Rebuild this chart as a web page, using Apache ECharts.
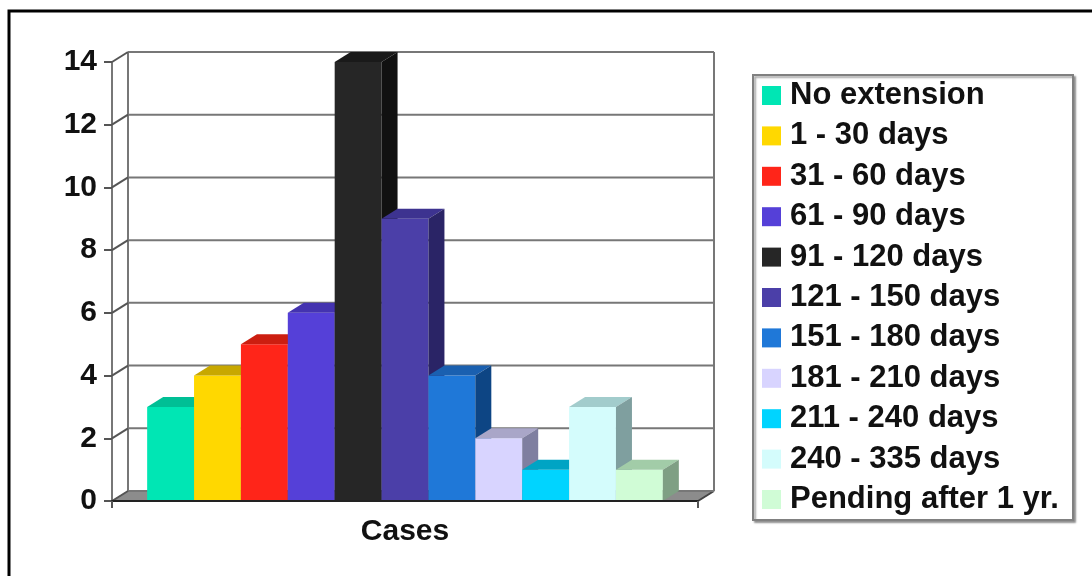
<!DOCTYPE html>
<html>
<head>
<meta charset="utf-8">
<style>
  html, body { margin: 0; padding: 0; background: #ffffff; }
  #chart { width: 1092px; height: 576px; }
</style>
<script src="https://cdn.jsdelivr.net/npm/echarts@6/dist/echarts.min.js"></script>
</head>
<body>
<div id="chart"></div>
<script>
// Case counts by length of extension
const categories = ['Cases'];
const seriesNames = [
  'No extension', '1 - 30 days', '31 - 60 days', '61 - 90 days',
  '91 - 120 days', '121 - 150 days', '151 - 180 days', '181 - 210 days',
  '211 - 240 days', '240 - 335 days', 'Pending after 1 yr.'
];
const seriesValues = [3, 4, 5, 6, 14, 9, 4, 2, 1, 3, 1];
const yTicks = [0, 2, 4, 6, 8, 10, 12, 14];

// Face colours of each 3D bar: front, top, right side
const frontColors = ['#00e6b4', '#ffd800', '#ff2519', '#5540d8', '#262626', '#4b3fa8',
                     '#1f78d8', '#d8d4ff', '#00d4ff', '#d4fcfc', '#d0fcd6'];
const topColors   = ['#00bf95', '#c8a800', '#cc1e10', '#4433b0', '#1a1a1a', '#3d3390',
                     '#1a60b0', '#a9a6c8', '#00a4c4', '#a2cccc', '#a2cca8'];
const sideColors  = ['#009a78', '#a08800', '#a01810', '#2e2480', '#111111', '#2a2466',
                     '#0d4584', '#7f7fa0', '#0080a0', '#7f9f9f', '#7f9f84'];

// Depth of the pseudo-3D box (screen offset of the back plane)
const DX = 16, DY = -10;
const GROUP_RATIO = 0.88;
const FONT = '"Liberation Sans", Arial, sans-serif';
const GRID_COLOR = '#777777';

const chart = echarts.init(document.getElementById('chart'), null, { renderer: 'canvas' });

// Back wall, side wall and floor of the 3D box
const wallSeries = {
  type: 'custom',
  name: 'wall',
  silent: true,
  z: 1,
  data: yTicks.map(v => [0, v]),
  renderItem(params, api) {
    const cs = params.coordSys;
    const x0 = cs.x, x1 = cs.x + cs.width;
    const y = api.coord([0, api.value(1)])[1];
    const children = [];
    const lineStyle = { stroke: GRID_COLOR, lineWidth: 2 };
    if (params.dataIndex === 0) {
      const yTop = api.coord([0, yTicks[yTicks.length - 1]])[1];
      children.push({
        type: 'polygon',
        shape: { points: [[x0, y], [x1, y], [x1 + DX, y + DY], [x0 + DX, y + DY]] },
        style: { fill: '#8c8c8c', stroke: '#6a6a6a', lineWidth: 1 }
      });
      children.push({ type: 'line', shape: { x1: x0 + DX, y1: y + DY, x2: x0 + DX, y2: yTop + DY }, style: lineStyle });
      children.push({ type: 'line', shape: { x1: x1 + DX, y1: y + DY, x2: x1 + DX, y2: yTop + DY }, style: lineStyle });
      children.push({ type: 'line', shape: { x1: x1, y1: y, x2: x1 + DX, y2: y + DY }, style: { stroke: '#444', lineWidth: 2 } });
    }
    children.push({ type: 'line', shape: { x1: x0 + DX, y1: y + DY, x2: x1 + DX, y2: y + DY }, style: lineStyle });
    children.push({ type: 'line', shape: { x1: x0, y1: y, x2: x0 + DX, y2: y + DY }, style: { stroke: '#555', lineWidth: 2 } });
    return { type: 'group', children };
  }
};

// One 3D bar per extension range, side by side inside the single category
const barSeries = seriesNames.map((name, i) => ({
  type: 'custom',
  name,
  z: 2,
  itemStyle: { color: frontColors[i] },
  data: [[0, seriesValues[i]]],
  renderItem(params, api) {
    const base = api.coord([api.value(0), 0]);
    const top = api.coord([api.value(0), api.value(1)]);
    const band = api.size([1, 0])[0];
    const group = band * GROUP_RATIO;
    const bw = group / seriesNames.length;
    const xl = base[0] - group / 2 + i * bw;
    const xr = xl + bw;
    const yb = base[1], yt = top[1];
    return {
      type: 'group',
      children: [
        { type: 'rect', shape: { x: xl, y: yt, width: bw, height: yb - yt }, style: { fill: frontColors[i] } },
        { type: 'polygon', shape: { points: [[xl, yt], [xr, yt], [xr + DX, yt + DY], [xl + DX, yt + DY]] }, style: { fill: topColors[i] } },
        { type: 'polygon', shape: { points: [[xr, yt], [xr + DX, yt + DY], [xr + DX, yb + DY], [xr, yb]] }, style: { fill: sideColors[i] } }
      ]
    };
  }
}));

chart.setOption({
  animation: false,
  backgroundColor: '#ffffff',
  textStyle: { fontFamily: FONT },
  graphic: [
    { type: 'rect', z: 0, silent: true,
      shape: { x: 9, y: 11, width: 1110, height: 620 },
      style: { fill: null, stroke: '#000000', lineWidth: 3 } },
    { type: 'rect', z: 0, silent: true,
      shape: { x: 753, y: 75, width: 320, height: 445 },
      style: { fill: '#ffffff', stroke: '#808080', lineWidth: 2,
               shadowColor: 'rgba(0,0,0,0.35)', shadowBlur: 2, shadowOffsetX: 2, shadowOffsetY: 2 } }
  ],
  grid: { left: 112, top: 62, width: 586, height: 439, containLabel: false },
  legend: {
    orient: 'vertical',
    left: 762,
    top: 80,
    padding: 0,
    itemWidth: 19,
    itemHeight: 19,
    itemGap: 9.4,
    icon: 'rect',
    selectedMode: false,
    data: seriesNames,
    textStyle: { fontFamily: FONT, fontSize: 31, fontWeight: 'bold', color: '#111111',
                 lineHeight: 31, padding: [0, 0, 0, 4] }
  },
  xAxis: {
    type: 'category',
    data: categories,
    z: 5,
    axisLine: { show: true, lineStyle: { color: '#222222', width: 2 } },
    axisTick: { show: true, length: 7, lineStyle: { color: '#555555', width: 2 } },
    axisLabel: { margin: 16, fontFamily: FONT, fontSize: 30, fontWeight: 'bold', color: '#111111' },
    splitLine: { show: false }
  },
  yAxis: {
    type: 'value',
    min: 0,
    max: 14,
    interval: 2,
    axisLine: { show: true, lineStyle: { color: GRID_COLOR, width: 2 } },
    axisTick: { show: true, length: 8, lineStyle: { color: '#555555', width: 2 } },
    axisLabel: { margin: 15, fontFamily: FONT, fontSize: 30, fontWeight: 'bold', color: '#111111' },
    splitLine: { show: false }
  },
  series: [wallSeries, ...barSeries]
});
</script>
</body>
</html>
